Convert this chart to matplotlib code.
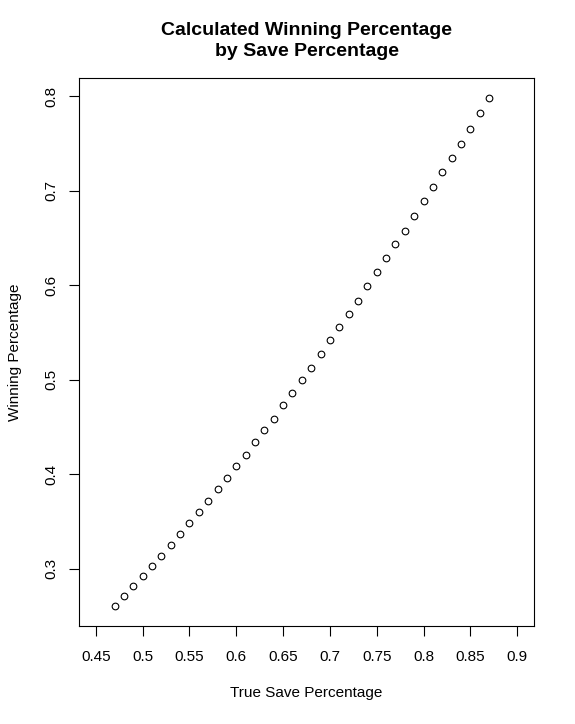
import matplotlib.pyplot as plt

plt.rcParams['font.family'] = ['Liberation Sans', 'DejaVu Sans']

save_pct = [0.47, 0.48, 0.49, 0.50, 0.51, 0.52, 0.53, 0.54, 0.55, 0.56,
            0.57, 0.58, 0.59, 0.60, 0.61, 0.62, 0.63, 0.64, 0.65, 0.66,
            0.67, 0.68, 0.69, 0.70, 0.71, 0.72, 0.73, 0.74, 0.75, 0.76,
            0.77, 0.78, 0.79, 0.80, 0.81, 0.82, 0.83, 0.84, 0.85, 0.86, 0.87]
win_pct = [0.261, 0.271, 0.282, 0.292, 0.303, 0.314, 0.325, 0.337, 0.348, 0.360,
           0.372, 0.384, 0.396, 0.409, 0.421, 0.434, 0.447, 0.459, 0.473, 0.486,
           0.500, 0.513, 0.527, 0.542, 0.556, 0.570, 0.584, 0.599, 0.614, 0.629,
           0.644, 0.658, 0.673, 0.689, 0.704, 0.720, 0.735, 0.750, 0.766, 0.782, 0.798]

x_ticks = [0.45, 0.5, 0.55, 0.6, 0.65, 0.7, 0.75, 0.8, 0.85, 0.9]
x_labels = ['0.45', '0.5', '0.55', '0.6', '0.65', '0.7', '0.75', '0.8', '0.85', '0.9']
y_ticks = [0.3, 0.4, 0.5, 0.6, 0.7, 0.8]
y_labels = ['0.3', '0.4', '0.5', '0.6', '0.7', '0.8']

fig = plt.figure(figsize=(5.75, 7.24), dpi=100)
ax = fig.add_axes([79/575, 1 - 626/724, (534 - 79)/575, (626 - 78)/724])

ax.plot(save_pct, win_pct, 'o', mfc='none', mec='black', ms=4.8, mew=0.8)

# R-style 4% padding around xlim 0.45-0.9 and the data range in y
ax.set_xlim(0.45 - 0.018, 0.9 + 0.018)
yr = max(win_pct) - min(win_pct)
ax.set_ylim(min(win_pct) - 0.04 * yr, max(win_pct) + 0.04 * yr)

ax.set_xticks(x_ticks)
ax.set_xticklabels(x_labels)
ax.set_yticks(y_ticks)
ax.set_yticklabels(y_labels, rotation=90, va='center')
ax.tick_params(length=7, width=0.8, labelsize=11, pad=8)
ax.tick_params(axis='x', pad=10)
for s in ax.spines.values():
    s.set_linewidth(0.8)

fig.text(0.5 * (79 + 534) / 575, 1 - 41/724,
         'Calculated Winning Percentage\nby Save Percentage',
         ha='center', va='center', fontsize=14, fontweight='bold', linespacing=1.35)
fig.text(0.5 * (79 + 534) / 575, 1 - 693/724, 'True Save Percentage',
         ha='center', va='center', fontsize=11)
fig.text(15/575, 1 - 352/724, 'Winning Percentage',
         ha='center', va='center', rotation=90, fontsize=11)

fig.savefig('out.png', dpi=100)
